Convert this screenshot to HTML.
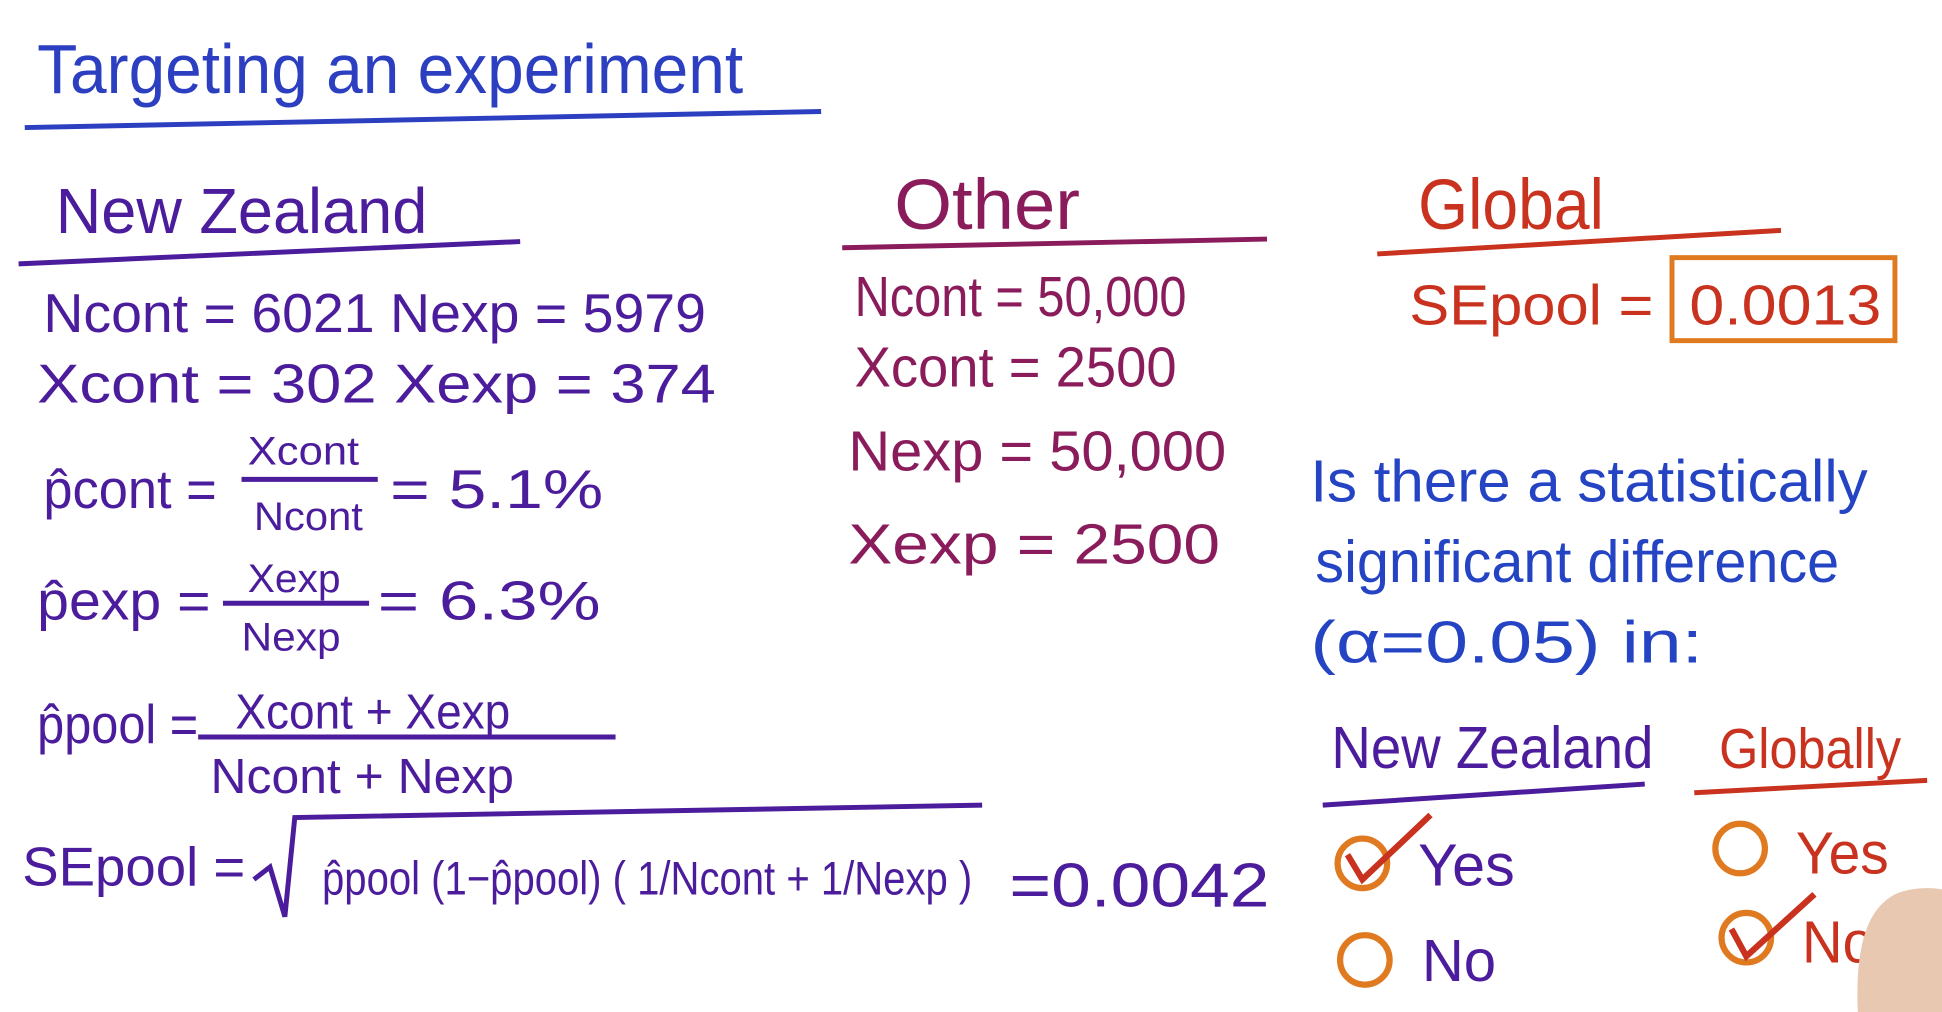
<!DOCTYPE html>
<html><head><meta charset="utf-8"><style>
html,body{margin:0;padding:0;background:#fff;}
svg{display:block;}
text{font-family:"Liberation Sans",sans-serif;}
.t{fill:#2b3fc0;}
.nz{fill:#4b1c9c;}
.ot{fill:#8a1c5c;}
.gl{fill:#c8321e;}
.q{fill:#2544c4;}
</style></head><body>
<svg width="1942" height="1012" viewBox="0 0 1568 817" preserveAspectRatio="none">
<rect width="1568" height="817" fill="#fff"/>
<g>
<text class="t" x="30" y="75" font-size="56" textLength="570" lengthAdjust="spacingAndGlyphs">Targeting an experiment</text>
<path d="M20 103 L663 90" stroke="#2b3fc0" stroke-width="4" fill="none"/>
</g>
<g class="nz" font-size="44">
<text x="45" y="188" font-size="52" textLength="300" lengthAdjust="spacingAndGlyphs">New Zealand</text>
<path d="M15 213 L420 195" stroke="#4b1c9c" stroke-width="4" fill="none"/>
<text x="35" y="268" textLength="535" lengthAdjust="spacingAndGlyphs">Ncont = 6021  Nexp = 5979</text>
<text x="30" y="325" textLength="548" lengthAdjust="spacingAndGlyphs">Xcont = 302   Xexp = 374</text>
<text x="35" y="410" textLength="140" lengthAdjust="spacingAndGlyphs">p̂cont =</text>
<text x="200" y="375" font-size="32" textLength="90" lengthAdjust="spacingAndGlyphs">Xcont</text>
<path d="M195 387 L305 387" stroke="#4b1c9c" stroke-width="4"/>
<text x="205" y="428" font-size="32" textLength="88" lengthAdjust="spacingAndGlyphs">Ncont</text>
<text x="315" y="410" textLength="172" lengthAdjust="spacingAndGlyphs">= 5.1%</text>
<text x="30" y="500" textLength="140" lengthAdjust="spacingAndGlyphs">p̂exp =</text>
<text x="200" y="478" font-size="32" textLength="75" lengthAdjust="spacingAndGlyphs">Xexp</text>
<path d="M180 487 L298 487" stroke="#4b1c9c" stroke-width="4"/>
<text x="195" y="525" font-size="32" textLength="80" lengthAdjust="spacingAndGlyphs">Nexp</text>
<text x="305" y="500" textLength="180" lengthAdjust="spacingAndGlyphs">= 6.3%</text>
<text x="30" y="600" textLength="130" lengthAdjust="spacingAndGlyphs">p̂pool =</text>
<text x="190" y="588" font-size="40" textLength="222" lengthAdjust="spacingAndGlyphs">Xcont + Xexp</text>
<path d="M160 595 L497 595" stroke="#4b1c9c" stroke-width="4"/>
<text x="170" y="640" font-size="40" textLength="245" lengthAdjust="spacingAndGlyphs">Ncont + Nexp</text>
<text x="18" y="715" textLength="180" lengthAdjust="spacingAndGlyphs">SEpool =</text>
<path d="M205 710 L218 700 L230 740 L238 660 L793 650" stroke="#4b1c9c" stroke-width="4" fill="none"/>
<text x="260" y="722" font-size="38" textLength="525" lengthAdjust="spacingAndGlyphs">p̂pool (1−p̂pool) ( 1/Ncont + 1/Nexp )</text>
<text x="815" y="732" font-size="50" textLength="210" lengthAdjust="spacingAndGlyphs">=0.0042</text>
</g>
<g class="ot" font-size="46">
<text x="722" y="185" font-size="58" textLength="150" lengthAdjust="spacingAndGlyphs">Other</text>
<path d="M680 200 L1023 193" stroke="#8a1c5c" stroke-width="4" fill="none"/>
<text x="690" y="255" textLength="268" lengthAdjust="spacingAndGlyphs">Ncont = 50,000</text>
<text x="690" y="312" textLength="260" lengthAdjust="spacingAndGlyphs">Xcont = 2500</text>
<text x="685" y="380" textLength="305" lengthAdjust="spacingAndGlyphs">Nexp = 50,000</text>
<text x="685" y="455" textLength="300" lengthAdjust="spacingAndGlyphs">Xexp = 2500</text>
</g>
<g class="gl" font-size="46">
<text x="1145" y="185" font-size="58" textLength="150" lengthAdjust="spacingAndGlyphs">Global</text>
<path d="M1112 205 L1438 186" stroke="#c8321e" stroke-width="4" fill="none"/>
<text x="1138" y="262" textLength="197" lengthAdjust="spacingAndGlyphs">SEpool =</text>
<rect x="1350" y="208" width="180" height="67" fill="none" stroke="#e07a20" stroke-width="4"/>
<text x="1364" y="262" textLength="155" lengthAdjust="spacingAndGlyphs">0.0013</text>
</g>
<g class="q" font-size="48">
<text x="1058" y="405" textLength="450" lengthAdjust="spacingAndGlyphs">Is there a statistically</text>
<text x="1062" y="470" textLength="423" lengthAdjust="spacingAndGlyphs">significant difference</text>
<text x="1058" y="535" textLength="317" lengthAdjust="spacingAndGlyphs">(α=0.05) in:</text>
</g>
<g font-size="48">
<text class="nz" x="1075" y="620" textLength="260" lengthAdjust="spacingAndGlyphs">New Zealand</text>
<path d="M1068 650 L1328 633" stroke="#4b1c9c" stroke-width="4" fill="none"/>
<text class="gl" x="1388" y="620" font-size="46" textLength="147" lengthAdjust="spacingAndGlyphs">Globally</text>
<path d="M1368 640 L1556 630" stroke="#c8321e" stroke-width="4" fill="none"/>
<circle cx="1100" cy="697" r="20" fill="none" stroke="#e07a20" stroke-width="5"/>
<circle cx="1102" cy="775" r="20" fill="none" stroke="#e07a20" stroke-width="5"/>
<circle cx="1405" cy="685" r="20" fill="none" stroke="#e07a20" stroke-width="5"/>
<circle cx="1410" cy="757" r="20" fill="none" stroke="#e07a20" stroke-width="5"/>
<path d="M1088 690 L1100 710 L1155 658" stroke="#c8321e" stroke-width="5" fill="none"/>
<path d="M1398 750 L1410 772 L1465 722" stroke="#c8321e" stroke-width="5" fill="none"/>
<text class="nz" x="1145" y="715" textLength="78" lengthAdjust="spacingAndGlyphs">Yes</text>
<text class="nz" x="1148" y="792" textLength="60" lengthAdjust="spacingAndGlyphs">No</text>
<text class="gl" x="1450" y="705" textLength="75" lengthAdjust="spacingAndGlyphs">Yes</text>
<text class="gl" x="1455" y="777" textLength="58" lengthAdjust="spacingAndGlyphs">No</text>
</g>
<path d="M1500 817 C1498 770 1505 735 1530 722 C1548 714 1568 718 1568 718 L1568 817 Z" fill="#e8c8b0"/>
</svg>
</body></html>
